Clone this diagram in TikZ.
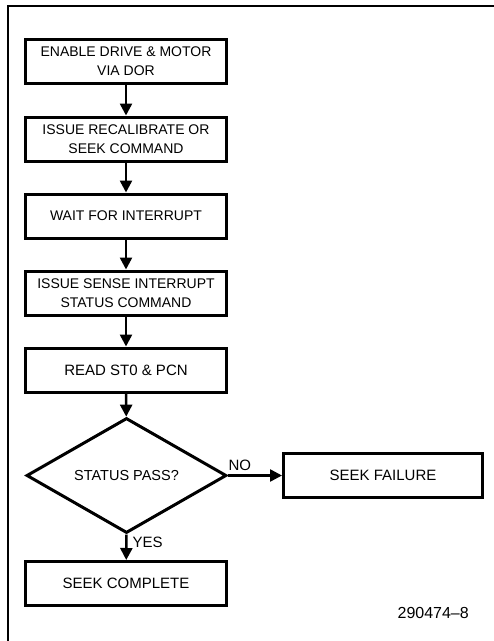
\documentclass[tikz,border=0pt]{standalone}
\usepackage{fontspec}
\setmainfont{Liberation Sans}
\usetikzlibrary{arrows.meta, shapes.geometric, positioning}

\begin{document}
\begin{tikzpicture}[x=1pt,y=1pt,yscale=-1,xscale=1,
	box/.style={draw, line width=3pt, minimum width=201pt, minimum height=44pt, inner sep=0pt, align=center, font=\fontsize{14}{19}\selectfont},
	decision/.style={draw, diamond, line width=3pt, minimum width=200pt, minimum height=94pt, inner sep=0pt, font=\fontsize{14.5}{19}\selectfont},
	arr/.style={line width=2.5pt, -{Triangle[length=12pt,width=12pt]}},
	tag/.style={inner sep=2pt, font=\fontsize{15}{17}\selectfont}]
	\useasboundingbox (0,0) rectangle (494,641);

	%Frame lines
	\draw [line width=2pt]  (494,6) -- (8,6) -- (8,641) ;

	% Steps
	\node [box] (enable) at (126,61) {ENABLE DRIVE \& MOTOR\\VIA DOR};
	\node [box] (recal) at (126,139) {ISSUE RECALIBRATE OR\\SEEK COMMAND};
	\node [box] (waitint) at (126,216) {WAIT FOR INTERRUPT};
	\node [box] (sense) at (126,293) {ISSUE SENSE INTERRUPT\\STATUS COMMAND};
	\node [box, font=\fontsize{15}{19}\selectfont] (readst) at (126,370) {READ ST0 \& PCN};
	% Decision
	\node [decision] (pass) at (126.5,475.5) {STATUS PASS?};
	\node [box, minimum width=199pt, font=\fontsize{15}{19}\selectfont] (fail) at (383,475.5) {SEEK FAILURE};
	\node [box, font=\fontsize{15}{19}\selectfont] (done) at (126,583.5) {SEEK COMPLETE};

	% Connectors
	\draw [arr] (enable) -- (recal) ;
	\draw [arr] (recal) -- (waitint) ;
	\draw [arr] (waitint) -- (sense) ;
	\draw [arr] (sense) -- (readst) ;
	\draw [arr] (readst) -- (pass) ;
	\draw [arr] (pass.east) -- node [tag, above, inner sep=4pt, pos=0.22] {NO} (fail) ;
	\draw [arr] (pass.south) -- node [tag, right, inner sep=5pt, pos=0.3] {YES} (done) ;

	% Figure number
	\node [tag, anchor=east, font=\fontsize{16}{18}\selectfont] (fignum) at (471,613) {290474--8};
\end{tikzpicture}
\end{document}
